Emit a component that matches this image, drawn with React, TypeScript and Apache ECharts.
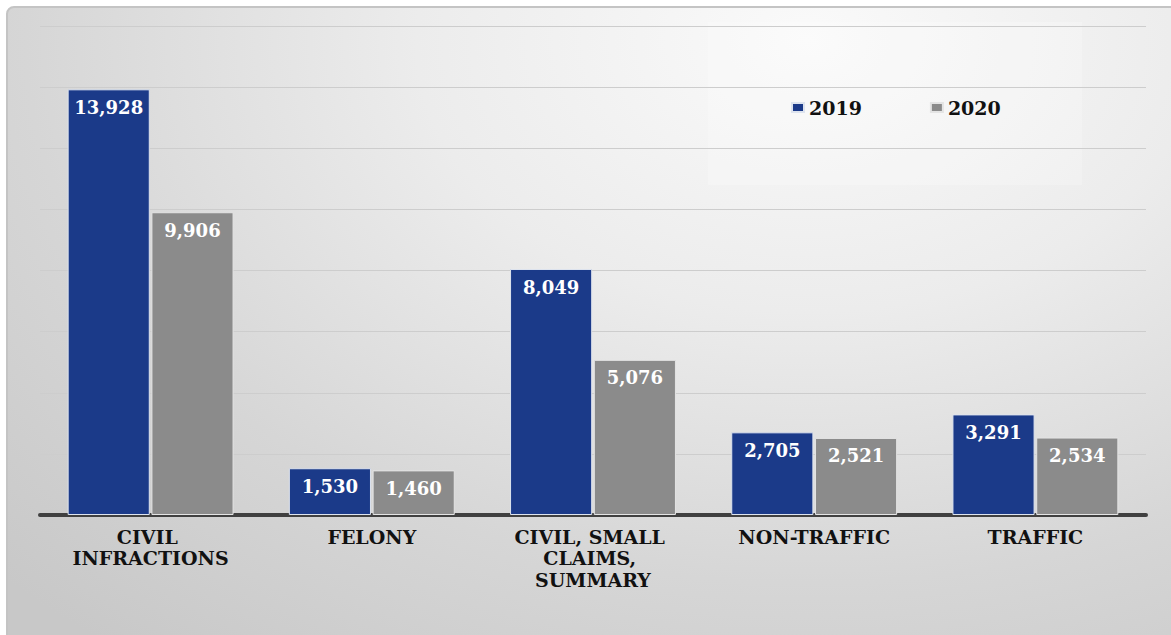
import React, { useEffect, useRef } from "react";
import * as echarts from "echarts";

const categories = ["CIVIL INFRACTIONS", "FELONY", "CIVIL, SMALL CLAIMS, SUMMARY", "NON-TRAFFIC", "TRAFFIC"];
const seriesNames = ["2019", "2020"];
const values2019 = [13928, 1530, 8049, 2705, 3291];
const values2020 = [9906, 1460, 5076, 2521, 2534];
const yMax = 16000;
const yInterval = 2000;

const SERIF = "'DejaVu Serif', 'Liberation Serif', serif";

export default function App() {
  const ref = useRef<HTMLDivElement>(null);

  useEffect(() => {
    document.body.style.margin = "0";
    if (!ref.current) return;
    const chart = echarts.init(ref.current, undefined, { renderer: "svg" });
    const fmt = (p: any) => Number(p.value).toLocaleString("en-US");
    const labelStyle = {
      show: true,
      position: "insideTop" as const,
      distance: 9,
      color: "#ffffff",
      fontFamily: SERIF,
      fontWeight: "bold" as const,
      fontSize: 18,
      formatter: fmt,
    };
    chart.setOption({
      animation: false,
      backgroundColor: "transparent",
      graphic: [
        {
          type: "rect",
          z: 0,
          silent: true,
          shape: { x: 708, y: 22, width: 374, height: 163 },
          style: { fill: "rgba(255,255,255,0.22)" },
        },
      ],
      legend: {
        data: seriesNames,
        left: 786,
        top: 93,
        itemWidth: 12,
        itemHeight: 9,
        itemGap: 68,
        icon: "rect",
        textStyle: { fontFamily: SERIF, fontWeight: "bold", fontSize: 19, color: "#111" },
      },
      grid: { left: 40, right: 25, top: 26, bottom: 120, containLabel: false },
      xAxis: {
        type: "category",
        data: categories,
        axisLine: { show: true, lineStyle: { color: "#404040", width: 4 } },
        axisTick: { show: false },
        axisLabel: {
          interval: 0,
          margin: 11,
          color: "#111",
          fontFamily: SERIF,
          fontWeight: "bold",
          fontSize: 19,
          lineHeight: 21.5,
          width: 196,
          overflow: "break",
        },
      },
      yAxis: {
        type: "value",
        min: 0,
        max: yMax,
        interval: yInterval,
        axisLabel: { show: false },
        axisLine: { show: false },
        axisTick: { show: false },
        splitLine: { lineStyle: { color: "#cdcdcd", width: 1 } },
      },
      series: [
        {
          name: seriesNames[0],
          type: "bar",
          data: values2019,
          barCategoryGap: "25%",
          barGap: "2%",
          itemStyle: { color: "#1b3a89", borderColor: "#dde3ee", borderWidth: 1 },
          label: labelStyle,
        },
        {
          name: seriesNames[1],
          type: "bar",
          data: values2020,
          barCategoryGap: "25%",
          barGap: "2%",
          itemStyle: { color: "#8b8b8b", borderColor: "#e4e4e4", borderWidth: 1 },
          label: labelStyle,
        },
      ],
    });
    return () => chart.dispose();
  }, []);

  return (
    <div style={{ position: "relative", width: 1171, height: 635, background: "#ffffff", overflow: "hidden" }}>
      <div
        style={{
          position: "absolute",
          left: 6,
          top: 6,
          width: 1180,
          height: 650,
          boxSizing: "border-box",
          border: "2px solid #c4c4c4",
          borderRadius: 8,
          background:
            "radial-gradient(ellipse 95% 120% at 68% 5%, #fafafa 0%, #ececec 35%, #d6d6d6 70%, #c8c8c8 100%)",
        }}
      />
      <div ref={ref} style={{ position: "absolute", left: 0, top: 0, width: 1171, height: 635 }} />
    </div>
  );
}
